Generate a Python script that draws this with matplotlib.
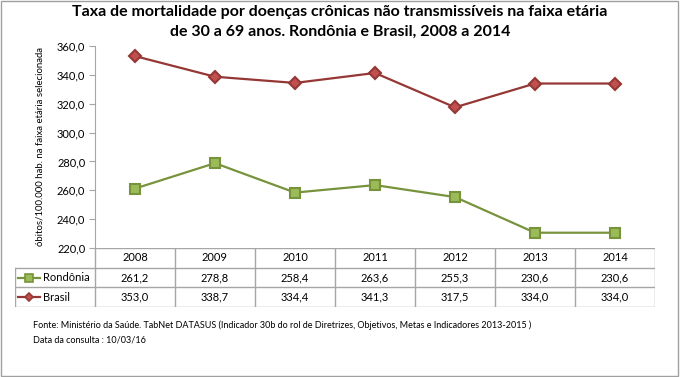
import matplotlib

matplotlib.use("Agg")
import matplotlib.pyplot as plt
from matplotlib.patches import Rectangle

plt.rcParams["font.family"] = ["Lato", "DejaVu Sans"]

years = ["2008", "2009", "2010", "2011", "2012", "2013", "2014"]
rondonia = [261.2, 278.8, 258.4, 263.6, 255.3, 230.6, 230.6]
brasil = [353.0, 338.7, 334.4, 341.3, 317.5, 334.0, 334.0]
series_names = ["Rondônia", "Brasil"]
y_ticks = [220, 240, 260, 280, 300, 320, 340, 360]

title = ("Taxa de mortalidade por doenças crônicas não transmissíveis na faixa etária\n"
         "de 30 a 69 anos. Rondônia e Brasil, 2008 a 2014")
ylabel = "óbitos/100.000 hab. na faixa etária selecionada"
source = ("Fonte: Ministério da Saúde. TabNet DATASUS (Indicador 30b do rol de Diretrizes, "
          "Objetivos, Metas e Indicadores 2013-2015 )\nData da consulta : 10/03/16")

W, H = 680, 377
grid_c = "#a6a6a6"
styles = {
    "Rondônia": dict(color="#77933c", marker="s", mfc="#9bbb59", mec="#77933c", ms=7),
    "Brasil": dict(color="#953735", marker="D", mfc="#c0504d", mec="#953735", ms=6),
}


def px(x0, y0, x1, y1):
    # pixel box (top-left origin) -> figure fraction rect
    return [x0 / W, 1 - y1 / H, (x1 - x0) / W, (y1 - y0) / H]


fig = plt.figure(figsize=(W / 100, H / 100), dpi=100)
fig.patches.append(Rectangle((0.002, 0.003), 0.995, 0.994, transform=fig.transFigure,
                             fill=False, edgecolor="#a0a0a0", linewidth=1))

# main plot
ax = fig.add_axes(px(95, 46, 655, 248))
n = len(years)
xs = [i + 0.5 for i in range(n)]
ax.plot(xs, rondonia, lw=1.6, mew=1.5, **styles["Rondônia"])
ax.plot(xs, brasil, lw=1.6, mew=1.5, **styles["Brasil"])
ax.set_xlim(0, n)
ax.set_ylim(220, 360)
ax.set_yticks(y_ticks)
ax.set_yticklabels([f"{v:.1f}".replace(".", ",") for v in y_ticks], fontsize=8)
ax.set_xticks([])
for s in ("top", "right", "bottom"):
    ax.spines[s].set_visible(False)
ax.spines["left"].set_color(grid_c)
ax.tick_params(axis="y", color=grid_c, length=4, pad=3)
ax.patch.set_alpha(0)

fig.text(40 / W, 1 - 146 / H, ylabel, rotation=90, ha="center", va="center", fontsize=6.9)
fig.suptitle(title, x=340 / W, y=1 - 5 / H, va="top", fontsize=11.5, fontweight="bold",
             linespacing=1.5)

# data table under the plot: one column unit = 80 px, legend column at -1..0
tb = fig.add_axes(px(15, 248, 655, 307))
tb.set_xlim(-1, n)
tb.set_ylim(3, 0)
tb.axis("off")
lk = dict(color=grid_c, lw=1)
tb.plot([0, n], [0, 0], **lk)
for r in (1, 2, 3):
    tb.plot([-1, n], [r, r], **lk)
for c in range(n + 1):
    tb.plot([c, c], [0, 3], **lk)
tb.plot([-1, -1], [1, 3], **lk)
for i, yr in enumerate(years):
    tb.text(i + 0.5, 0.5, yr, ha="center", va="center", fontsize=8)
for r, (name, vals) in enumerate(zip(series_names, [rondonia, brasil]), start=1):
    st = styles[name]
    tb.plot([-0.96, -0.69], [r + 0.5, r + 0.5], lw=1.6, color=st["color"])
    tb.plot([-0.825], [r + 0.5], lw=0, mew=1.2, color=st["color"], marker=st["marker"],
            mfc=st["mfc"], mec=st["mec"], ms=st["ms"] - 1.5)
    tb.text(-0.65, r + 0.5, name, ha="left", va="center", fontsize=8)
    for i, v in enumerate(vals):
        tb.text(i + 0.5, r + 0.5, f"{v:.1f}".replace(".", ","), ha="center", va="center",
                fontsize=8)

fig.text(33 / W, 1 - 320 / H, source, ha="left", va="top", fontsize=6.5,
         linespacing=1.9)

fig.savefig("out.png", dpi=100)
